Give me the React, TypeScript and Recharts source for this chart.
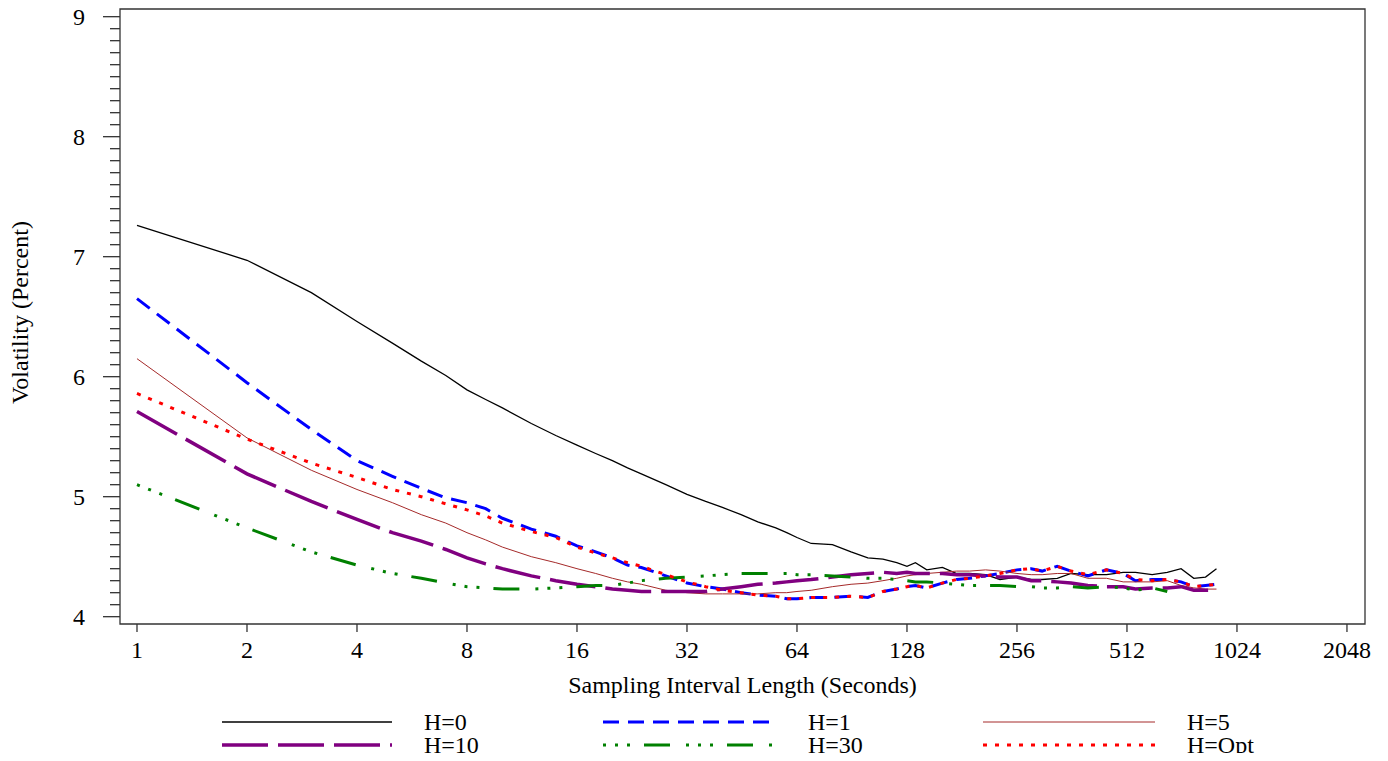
import React from 'react';
import { LineChart, Line, XAxis, YAxis, Legend, ReferenceArea } from 'recharts';

const FONT = '"Liberation Serif", "Times New Roman", Times, serif';
const AXIS = '#333333';
const FS = 24;

// sampling interval (seconds) and volatility (percent) per series
const seconds = [
  1, 2, 3, 4, 5, 6, 7, 8, 9, 10,
  12, 14, 16, 18, 20, 22, 24, 28, 32, 36, 40,
  45, 50, 56, 60, 64, 70, 80, 90, 100,
  110, 120, 128, 135, 145, 160, 175, 190, 210, 230,
  256, 280, 300, 330, 360, 400, 450, 500, 540, 600,
  660, 720, 780, 840, 900,
];

const volH0 = [
  7.26, 6.97, 6.70, 6.46, 6.28, 6.13, 6.01, 5.89, 5.81, 5.74,
  5.61, 5.51, 5.43, 5.36, 5.30, 5.24, 5.19, 5.10, 5.02, 4.96, 4.91,
  4.85, 4.79, 4.74, 4.70, 4.66, 4.61, 4.60, 4.54, 4.49,
  4.48, 4.45, 4.42, 4.45, 4.39, 4.41, 4.36, 4.36, 4.35, 4.31,
  4.33, 4.31, 4.31, 4.32, 4.36, 4.35, 4.35, 4.37, 4.37, 4.35,
  4.37, 4.40, 4.32, 4.33, 4.40,
];

const volH1 = [
  6.65, 5.95, 5.56, 5.30, 5.17, 5.07, 4.99, 4.95, 4.90, 4.82,
  4.73, 4.67, 4.59, 4.54, 4.49, 4.43, 4.41, 4.34, 4.28, 4.25, 4.23,
  4.20, 4.18, 4.17, 4.15, 4.15, 4.16, 4.16, 4.17, 4.16,
  4.21, 4.23, 4.25, 4.26, 4.24, 4.28, 4.31, 4.32, 4.34, 4.36,
  4.39, 4.40, 4.38, 4.42, 4.38, 4.34, 4.39, 4.36, 4.30, 4.31,
  4.31, 4.29, 4.25, 4.26, 4.27,
];

const volH5 = [
  6.15, 5.49, 5.22, 5.06, 4.95, 4.85, 4.78, 4.70, 4.64, 4.58,
  4.50, 4.45, 4.40, 4.36, 4.32, 4.29, 4.27, 4.22, 4.20, 4.19, 4.19,
  4.19, 4.19, 4.20, 4.20, 4.21, 4.22, 4.25, 4.27, 4.28,
  4.30, 4.32, 4.34, 4.35, 4.36, 4.37, 4.38, 4.38, 4.39, 4.38,
  4.36, 4.35, 4.35, 4.36, 4.36, 4.32, 4.32, 4.29, 4.29, 4.29,
  4.30, 4.26, 4.24, 4.23, 4.23,
];

const volH10 = [
  5.71, 5.19, 4.96, 4.81, 4.70, 4.63, 4.56, 4.49, 4.44, 4.40,
  4.34, 4.30, 4.27, 4.25, 4.23, 4.22, 4.21, 4.21, 4.21, 4.21, 4.23,
  4.25, 4.27, 4.28, 4.29, 4.30, 4.31, 4.33, 4.35, 4.36,
  4.37, 4.36, 4.37, 4.36, 4.36, 4.36, 4.35, 4.35, 4.34, 4.33,
  4.33, 4.30, 4.30, 4.29, 4.28, 4.26, 4.25, 4.25, 4.23, 4.24,
  4.24, 4.25, 4.22, 4.22, 4.22,
];

const volH30 = [
  5.10, 4.74, 4.54, 4.43, 4.36, 4.32, 4.28, 4.25, 4.24, 4.23,
  4.23, 4.24, 4.25, 4.26, 4.26, 4.28, 4.30, 4.32, 4.33, 4.34, 4.35,
  4.36, 4.36, 4.36, 4.36, 4.35, 4.35, 4.34, 4.33, 4.32,
  4.32, 4.31, 4.30, 4.29, 4.29, 4.28, 4.27, 4.26, 4.26, 4.26,
  4.25, 4.25, 4.24, 4.24, 4.25, 4.24, 4.25, 4.24, 4.22, 4.24,
  4.21, null, null, null, null,
];

const volHOpt = [
  5.86, 5.48, 5.28, 5.16, 5.06, 5.00, 4.94, 4.89, 4.84, 4.78,
  4.71, 4.66, 4.58, 4.53, 4.49, 4.45, 4.42, 4.35, 4.29, 4.25, 4.22,
  4.20, 4.18, 4.17, 4.15, 4.15, 4.16, 4.16, 4.17, 4.16,
  4.21, 4.23, 4.25, 4.26, 4.24, 4.28, 4.31, 4.32, 4.34, 4.36,
  4.39, 4.40, 4.38, 4.42, 4.38, 4.35, 4.39, 4.36, 4.31, 4.30,
  4.31, 4.29, 4.25, 4.26, 4.27,
];

const xTickLabels = ['1', '2', '4', '8', '16', '32', '64', '128', '256', '512', '1024', '2048'];
const yTickLabels = ['4', '5', '6', '7', '8', '9'];

const series = [
  { key: 'h0', name: 'H=0', color: '#000000', width: 1.3, dash: undefined },
  { key: 'h1', name: 'H=1', color: '#0000FF', width: 3, dash: '16 9' },
  { key: 'h5', name: 'H=5', color: '#A52A2A', width: 1, dash: undefined },
  { key: 'h10', name: 'H=10', color: '#800080', width: 3.5, dash: '46 10' },
  { key: 'h30', name: 'H=30', color: '#008000', width: 3, dash: '3 9 3 9 3 14 26 16' },
  { key: 'hOpt', name: 'H=Opt', color: '#FF0000', width: 3, dash: '4 8' },
];

const chartData = seconds.map((s, i) => ({
  logSec: Math.log2(s),
  h0: volH0[i],
  h1: volH1[i],
  h5: volH5[i],
  h10: volH10[i],
  h30: volH30[i],
  hOpt: volHOpt[i],
}));

const xTicks = xTickLabels.map((l) => Math.log2(Number(l)));
// minor ticks every 0.1 between the labelled ones
const yTicks: number[] = [];
for (let v = 40; v <= 90; v++) yTicks.push(v / 10);

const X_DOMAIN: [number, number] = [-0.1545, 11.164];
const Y_DOMAIN: [number, number] = [3.939, 9.064];

const XTick = (props: any) => {
  const { x, y, payload } = props;
  const label = String(Math.round(Math.pow(2, payload.value)));
  return (
    <g>
      <line x1={x} y1={y} x2={x} y2={y + 8} stroke={AXIS} strokeWidth={1.3} />
      <text x={x} y={y + 34} textAnchor="middle" fontFamily={FONT} fontSize={FS} fill="#000">
        {label}
      </text>
    </g>
  );
};

const YTick = (props: any) => {
  const { x, y, payload } = props;
  const v = payload.value as number;
  const major = yTickLabels.includes(String(Math.round(v * 10) / 10));
  return (
    <g>
      <line x1={x - (major ? 17 : 10)} y1={y} x2={x} y2={y} stroke={AXIS} strokeWidth={1.3} />
      {major && (
        <text x={x - 35} y={y} dy="0.34em" textAnchor="end" fontFamily={FONT} fontSize={FS} fill="#000">
          {String(Math.round(v))}
        </text>
      )}
    </g>
  );
};

const XTitle = (props: any) => {
  const vb = props.viewBox || { x: 120, y: 624, width: 1245 };
  return (
    <text x={vb.x + vb.width / 2} y={vb.y + 69} textAnchor="middle" fontFamily={FONT} fontSize={FS} fill="#000">
      Sampling Interval Length (Seconds)
    </text>
  );
};

const YTitle = (props: any) => {
  const vb = props.viewBox || { y: 9, height: 615 };
  const cy = vb.y + vb.height / 2 - 4;
  return (
    <text transform={`translate(28, ${cy}) rotate(-90)`} textAnchor="middle" fontFamily={FONT} fontSize={FS} fill="#000">
      Volatility (Percent)
    </text>
  );
};

const colLine = [[222, 392], [603, 776], [983, 1155]];
const colText = [424, 808, 1187];
const rowY = [14, 37];

const LegendBox = () => (
  <svg width={1388} height={53} style={{ display: 'block' }}>
    {series.map((s, i) => {
      const col = i % 3;
      const row = Math.floor(i / 3);
      return (
        <g key={s.key}>
          <line
            x1={colLine[col][0]}
            x2={colLine[col][1]}
            y1={rowY[row]}
            y2={rowY[row]}
            stroke={s.color}
            strokeWidth={s.width}
            strokeDasharray={s.dash}
          />
          <text x={colText[col]} y={rowY[row]} dy="0.34em" fontFamily={FONT} fontSize={FS} fill="#000">
            {s.name}
          </text>
        </g>
      );
    })}
  </svg>
);

const App: React.FC = () => {
  return (
    <div style={{ margin: -8, width: 1388, height: 761 }}>
      <LineChart width={1388} height={761} data={chartData} margin={{ top: 9, right: 23, left: 8, bottom: 8 }}>
        <XAxis
          type="number"
          dataKey="logSec"
          domain={X_DOMAIN}
          ticks={xTicks}
          interval={0}
          allowDataOverflow
          axisLine={false}
          tickLine={false}
          tickSize={0}
          tickMargin={0}
          height={129}
          tick={<XTick />}
          label={<XTitle />}
        />
        <YAxis
          type="number"
          domain={Y_DOMAIN}
          ticks={yTicks}
          interval={0}
          allowDataOverflow
          axisLine={false}
          tickLine={false}
          tickSize={0}
          tickMargin={0}
          width={112}
          tick={<YTick />}
          label={<YTitle />}
        />
        {series.map((s) => (
          <Line
            key={s.key}
            dataKey={s.key}
            name={s.name}
            type="linear"
            stroke={s.color}
            strokeWidth={s.width}
            strokeDasharray={s.dash}
            dot={false}
            activeDot={false}
            connectNulls={false}
            isAnimationActive={false}
          />
        ))}
        <ReferenceArea
          x1={X_DOMAIN[0]}
          x2={X_DOMAIN[1]}
          y1={Y_DOMAIN[0]}
          y2={Y_DOMAIN[1]}
          fill="none"
          stroke={AXIS}
          strokeWidth={1.3}
          ifOverflow="visible"
        />
        <Legend
          layout="horizontal"
          verticalAlign="middle"
          align="center"
          content={<LegendBox />}
          wrapperStyle={{ top: 708, left: 0, width: 1388, height: 53 }}
        />
      </LineChart>
    </div>
  );
};

export default App;
